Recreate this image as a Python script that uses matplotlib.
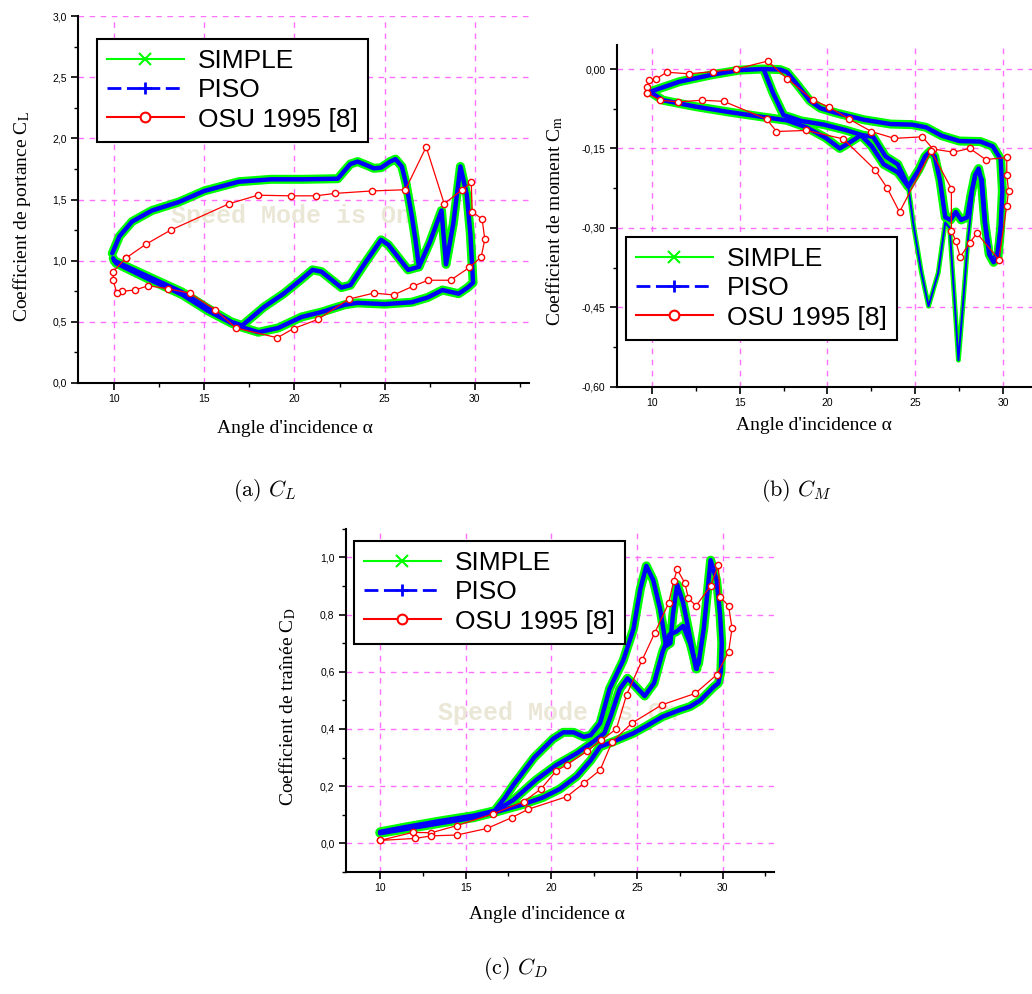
import numpy as np
import matplotlib
matplotlib.use("Agg")
import matplotlib.pyplot as plt
from matplotlib.lines import Line2D
from matplotlib.ticker import MultipleLocator, FuncFormatter

# Colours
C_SIMPLE = "#00ff00"
C_PISO = "#0000ff"
C_OSU = "#ff0000"
C_GRID = "#ff70ff"
C_WATERMARK = "#ebe7d6"

plt.rcParams["mathtext.fontset"] = "stix"
plt.rcParams["lines.scale_dashes"] = False

LABELS = ["SIMPLE", "PISO", "OSU 1995 [8]"]

# ---------------------------------------------------------------- (a) lift
# numerical loop (SIMPLE and PISO lie on top of each other)
cl_loop_alpha = [9.9, 10.3, 11.0, 12.1, 13.6, 15.0, 16.9, 18.7, 20.5, 22.4, 22.8, 23.1,
                 23.5, 24.0, 24.4, 24.8, 25.3, 25.6, 25.95, 26.2, 26.5, 26.7, 26.9, 27.5,
                 28.15, 28.4, 28.8, 29.2, 29.55, 29.75, 29.9, 29.6, 29.1, 28.2, 27.4, 26.5,
                 25.0, 23.5, 22.8, 21.5, 20.4, 19.1, 18.0, 17.0, 16.5, 15.2, 13.8, 11.9,
                 10.1, 9.95]
cl_loop = [1.06, 1.20, 1.32, 1.41, 1.48, 1.57, 1.645, 1.665, 1.665, 1.67, 1.74, 1.79,
           1.81, 1.78, 1.755, 1.76, 1.81, 1.83, 1.77, 1.62, 1.37, 1.175, 0.95, 1.15,
           1.41, 0.97, 1.30, 1.77, 1.54, 1.22, 0.82, 0.78, 0.73, 0.76, 0.70, 0.66,
           0.645, 0.655, 0.64, 0.58, 0.54, 0.45, 0.415, 0.46, 0.49, 0.59, 0.72, 0.85,
           0.98, 1.02]
cl_branch_alpha = [10.0, 11.9, 13.75, 15.2, 16.5, 17.1, 18.3, 19.4, 20.4, 21.0, 21.5,
                   22.6, 23.1, 24.0, 24.8, 25.2, 26.3, 26.9]
cl_branch = [1.0, 0.87, 0.745, 0.61, 0.50, 0.47, 0.62, 0.73, 0.85, 0.925, 0.91,
             0.78, 0.80, 1.0, 1.17, 1.13, 0.925, 0.95]
# experiment
cl_osu_alpha = [10.64, 11.77, 13.14, 16.37, 17.97, 19.79, 21.17, 22.26, 24.3, 26.15,
                27.3, 28.3, 29.3, 29.8, 29.85, 30.4, 30.55, 30.35, 29.7, 28.65, 27.4,
                26.55, 25.5, 24.4, 23.0, 21.3, 19.95, 19.05, 16.75, 15.6, 14.2, 13.0,
                11.9, 11.15, 10.45, 10.15, 9.95, 9.95, 10.64]
cl_osu = [1.02, 1.135, 1.25, 1.465, 1.535, 1.53, 1.53, 1.55, 1.57, 1.58,
          1.93, 1.465, 1.58, 1.64, 1.40, 1.34, 1.175, 1.03, 0.945, 0.84, 0.84,
          0.79, 0.72, 0.735, 0.685, 0.52, 0.445, 0.37, 0.45, 0.60, 0.735, 0.77,
          0.795, 0.76, 0.75, 0.735, 0.84, 0.91, 1.02]

# ---------------------------------------------------------------- (b) moment
cm_loop_alpha = [9.9, 11.57, 13.4, 15.0, 16.3, 17.3, 17.7, 18.25, 19.0, 19.6, 20.5, 22.1,
                 23.6, 24.8, 25.6, 26.5, 27.5, 28.7, 29.4, 29.85, 29.95, 29.85, 29.7,
                 29.45, 29.2, 28.95, 28.75, 28.6, 28.4, 28.15, 27.95, 27.6, 27.3, 27.0,
                 26.7, 26.4, 26.1, 25.85, 25.55, 25.2, 24.6, 24.0, 23.2, 22.5, 21.9,
                 21.3, 20.7, 19.9, 18.8, 17.7, 16.2, 14.35, 12.5, 10.65, 9.9]
cm_loop = [-0.043, -0.024, -0.011, -0.002, 0.0, -0.001, -0.006, -0.028, -0.06, -0.074,
           -0.083, -0.096, -0.104, -0.105, -0.11, -0.126, -0.136, -0.137, -0.146, -0.17,
           -0.23, -0.30, -0.355, -0.365, -0.35, -0.29, -0.21, -0.188, -0.20, -0.24,
           -0.28, -0.285, -0.27, -0.285, -0.28, -0.21, -0.165, -0.155, -0.165, -0.19,
           -0.222, -0.195, -0.18, -0.145, -0.125, -0.138, -0.15, -0.13, -0.11, -0.097,
           -0.09, -0.081, -0.071, -0.059, -0.043]
cm_branch_alpha = [16.4, 16.9, 17.5, 18.5, 19.8, 21.0, 22.0, 22.6, 23.3, 24.0, 24.6]
cm_branch = [-0.003, -0.045, -0.087, -0.098, -0.105, -0.115, -0.125, -0.128, -0.165,
             -0.18, -0.222]
cm_deep_alpha = [24.6, 24.9, 25.35, 25.75, 26.3, 26.7, 26.95, 27.25, 27.45, 27.7, 28.0,
                 28.3, 28.55, 28.85, 29.05, 29.35, 29.6, 29.8]
cm_deep = [-0.222, -0.296, -0.385, -0.448, -0.385, -0.29, -0.30, -0.448, -0.55, -0.448,
           -0.32, -0.227, -0.19, -0.208, -0.296, -0.36, -0.347, -0.296]
cm_osu_alpha = [9.75, 9.75, 9.85, 10.25, 10.85, 12.1, 13.5, 14.8, 16.6, 17.7, 19.2, 20.1,
                21.2, 22.5, 23.8, 25.4, 26.0, 27.15, 28.1, 29.0, 30.2, 30.2, 30.3, 30.2,
                29.75, 28.5, 28.1, 27.55, 27.3, 27.05, 27.05, 25.9, 24.1, 23.4, 22.7,
                20.9, 18.8, 17.1, 16.55, 14.1, 12.85, 11.5, 10.5, 9.75]
cm_osu = [-0.046, -0.034, -0.021, -0.019, -0.006, -0.009, -0.005, 0.0, 0.015, -0.018,
          -0.059, -0.072, -0.094, -0.118, -0.131, -0.128, -0.151, -0.157, -0.15, -0.171,
          -0.167, -0.2, -0.23, -0.258, -0.36, -0.31, -0.328, -0.355, -0.325, -0.305,
          -0.226, -0.155, -0.27, -0.225, -0.19, -0.132, -0.116, -0.118, -0.095, -0.061,
          -0.059, -0.062, -0.059, -0.046]

# ---------------------------------------------------------------- (c) drag
cd_loop_alpha = [10.0, 11.5, 13.5, 15.5, 16.7, 17.3, 17.8, 19.0, 20.1, 20.7, 21.3, 21.9,
                 22.3, 22.85, 23.4, 23.8, 24.2, 24.8, 25.2, 25.55, 25.95, 26.35, 26.7,
                 26.95, 27.1, 27.35, 27.7, 28.1, 28.45, 28.6, 28.9, 29.3, 29.65, 29.85,
                 29.95, 29.9, 29.75, 29.45, 28.7, 28.1, 27.5, 26.5, 25.55, 24.8, 23.6,
                 22.85, 22.3, 21.5, 20.5, 19.5, 18.3, 16.8, 15.5, 13.5, 11.5, 10.0]
cd_loop = [0.04, 0.057, 0.078, 0.097, 0.114, 0.16, 0.205, 0.3, 0.365, 0.388, 0.388, 0.372,
           0.378, 0.42, 0.54, 0.59, 0.64, 0.75, 0.89, 0.97, 0.92, 0.82, 0.69,
           0.70, 0.80, 0.905, 0.84, 0.72, 0.61, 0.63, 0.75, 0.99, 0.92, 0.80,
           0.70, 0.60, 0.56, 0.545, 0.50, 0.478, 0.466, 0.443, 0.41, 0.385, 0.355,
           0.338, 0.29, 0.235, 0.19, 0.16, 0.135, 0.11, 0.09, 0.07, 0.05, 0.035]
cd_branch_alpha = [16.8, 17.8, 19.1, 20.3, 21.5, 22.45, 23.1, 23.5, 24.0, 24.45, 24.9,
                   25.45, 26.0, 26.5, 26.9, 27.3, 27.7, 28.1, 28.5]
cd_branch = [0.115, 0.152, 0.221, 0.274, 0.315, 0.355, 0.385, 0.45, 0.54, 0.577, 0.55,
             0.515, 0.56, 0.67, 0.73, 0.74, 0.76, 0.70, 0.61]
cd_osu_alpha = [10.0, 11.9, 13.0, 14.5, 16.6, 18.4, 19.4, 20.3, 20.9, 22.1, 22.9, 23.8,
                24.4, 25.3, 26.05, 26.85, 27.15, 27.35, 27.8, 28.0, 28.45, 29.3, 29.75,
                29.85, 30.35, 30.55, 30.35, 29.65, 28.4, 26.45, 24.7, 23.55, 22.85, 21.9,
                20.9, 18.65, 17.7, 16.25, 14.5, 13.0, 12.05, 10.0]
cd_osu = [0.01, 0.038, 0.037, 0.062, 0.103, 0.146, 0.19, 0.254, 0.274, 0.323, 0.36, 0.40,
          0.52, 0.64, 0.737, 0.84, 0.918, 0.958, 0.909, 0.857, 0.83, 0.90, 0.973,
          0.862, 0.83, 0.752, 0.67, 0.589, 0.524, 0.484, 0.42, 0.355, 0.256, 0.21,
          0.163, 0.119, 0.09, 0.052, 0.029, 0.026, 0.017, 0.01]

# Figure in pixel layout
W, H = 1032, 994
fig = plt.figure(figsize=(W / 100, H / 100), dpi=100)


def px_axes(left, top, right, bottom):
    return fig.add_axes([left / W, 1 - bottom / H, (right - left) / W, (bottom - top) / H])


def style_axes(ax, ylim, ystep, fmt, ylabel, xlab_xy, ylab_xy):
    ax.set_xlim(8, 33)
    ax.set_ylim(*ylim)
    ax.xaxis.set_major_locator(MultipleLocator(5))
    ax.xaxis.set_minor_locator(MultipleLocator(2.5))
    ax.yaxis.set_major_locator(MultipleLocator(ystep))
    ax.yaxis.set_minor_locator(MultipleLocator(ystep / 2))
    ax.yaxis.set_major_formatter(
        FuncFormatter(lambda v, p: fmt.format(0.0 if abs(v) < 1e-9 else v).replace(".", ",")))
    ax.spines[["top", "right"]].set_visible(False)
    ax.spines[["left", "bottom"]].set_linewidth(1.5)
    ax.grid(True, which="major", color=C_GRID, linestyle=(0, (4, 4)), linewidth=1.0)
    ax.set_axisbelow(True)
    ax.tick_params(which="major", length=5, width=1.2, labelsize=7.5, pad=3)
    ax.tick_params(which="minor", length=3, width=1)
    for t in ax.get_xticklabels() + ax.get_yticklabels():
        t.set_family("Liberation Sans")
    ax.set_xlabel("Angle d'incidence α", fontsize=14, family="Liberation Serif")
    ax.set_ylabel(ylabel, fontsize=14, family="Liberation Serif")
    ax.xaxis.set_label_coords(*xlab_xy)
    ax.yaxis.set_label_coords(*ylab_xy)


def draw_num(ax, alpha, values, thin=False):
    kw = dict(solid_joinstyle="round", solid_capstyle="round")
    ax.plot(alpha, values, color=C_SIMPLE, lw=3.5 if thin else 6.5, zorder=2, **kw)
    ax.plot(alpha, values, color=C_PISO, lw=1.4 if thin else 3.2, zorder=3, **kw)


def draw_osu(ax, alpha, values):
    ax.plot(alpha, values, color=C_OSU, lw=0.9, marker="o", ms=4.5, mfc="white",
            mec=C_OSU, mew=1.0, zorder=4)


def add_legend(ax, x, y):
    handles = [
        Line2D([], [], color=C_SIMPLE, lw=1.5, marker="x", ms=9, mew=1.5),
        Line2D([], [], color=C_PISO, lw=2.0, ls=(0, (10, 4)), marker="+", ms=9, mew=2),
        Line2D([], [], color=C_OSU, lw=1.5, marker="o", ms=7, mfc="white", mec=C_OSU, mew=1.5),
    ]
    leg = ax.legend(handles, LABELS, loc="upper left", bbox_to_anchor=(x / W, 1 - y / H),
                    bbox_transform=fig.transFigure, borderaxespad=0, fancybox=False,
                    edgecolor="black", framealpha=1, prop={"family": "Liberation Sans", "size": 19},
                    handlelength=2.9, handletextpad=0.55, labelspacing=0.2, borderpad=0.38)
    leg.get_frame().set_linewidth(1.5)
    leg.set_zorder(10)


def watermark(ax, x, y):
    ax.text(x, y, "Speed Mode is On", color=C_WATERMARK, fontsize=18, weight="bold",
            family="Liberation Mono", ha="center", va="center", zorder=1)


# (a) C_L
ax_a = px_axes(78, 16, 529, 383)
style_axes(ax_a, (0, 3.0), 0.5, "{:.1f}", "Coefficient de portance C$_\\mathrm{L}$",
           (0.48, -0.10), (-0.10, 0.455))
watermark(ax_a, 19.8, 1.365)
draw_num(ax_a, cl_loop_alpha, cl_loop)
draw_num(ax_a, cl_branch_alpha, cl_branch)
draw_osu(ax_a, cl_osu_alpha, cl_osu)
add_legend(ax_a, 97, 39)

# (b) C_M
ax_b = px_axes(616.5, 45.2, 1056, 386.7)
style_axes(ax_b, (-0.60, 0.045), 0.15, "{:.2f}", "Coefficient de moment C$_\\mathrm{m}$",
           (0.45, -0.09), (-0.117, 0.485))
draw_num(ax_b, cm_loop_alpha, cm_loop)
draw_num(ax_b, cm_branch_alpha, cm_branch)
draw_num(ax_b, cm_deep_alpha, cm_deep, thin=True)
draw_osu(ax_b, cm_osu_alpha, cm_osu)
add_legend(ax_b, 626, 237)

# (c) C_D
ax_c = px_axes(345.7, 528.7, 774, 871.9)
style_axes(ax_c, (-0.1, 1.1), 0.2, "{:.1f}", "Coefficient de traînée C$_\\mathrm{D}$",
           (0.47, -0.10), (-0.111, 0.48))
watermark(ax_c, 20.4, 0.455)
draw_num(ax_c, cd_loop_alpha, cd_loop)
draw_num(ax_c, cd_branch_alpha, cd_branch)
draw_osu(ax_c, cd_osu_alpha, cd_osu)
add_legend(ax_c, 354, 541)

# Sub-figure captions
for x, y, txt in [(265, 490, "(a) $C_L$"), (797, 490, "(b) $C_M$"), (515, 968, "(c) $C_D$")]:
    fig.text(x / W, 1 - y / H, txt, fontsize=16, family="cmr10", math_fontfamily="cm",
             ha="center", va="center")

fig.savefig("out.png", dpi=100)
